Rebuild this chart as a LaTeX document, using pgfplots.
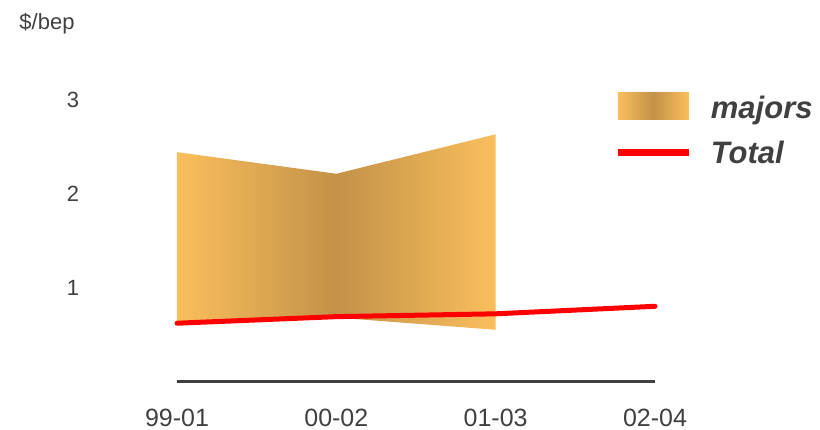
\documentclass[border=0pt]{standalone}
\usepackage{pgfplots}
\pgfplotsset{compat=1.18}
\usepackage{fontspec}
\setmainfont{Liberation Sans}
\definecolor{lightor}{RGB}{250,190,92}
\definecolor{darkor}{RGB}{195,146,72}
\definecolor{txt}{RGB}{64,64,64}
\begin{document}
\begin{tikzpicture}
\begin{axis}[
    scale only axis,
    width=478bp, height=329bp,
    xmin=0, xmax=3, ymin=0, ymax=3.5,
    clip=false,
    axis x line*=bottom, axis y line*=left,
    axis line style={-},
    x axis line style={draw=txt, line width=2bp},
    y axis line style={draw=none},
    major tick length=0pt,
    xtick={0,1,2,3},
    xticklabels={99-01,00-02,01-03,02-04},
    ytick={1,2,3},
    /pgf/number format/assume math mode=true,
    xticklabel style={anchor=center, yshift=-36bp, text=txt,
        font=\fontsize{25bp}{28bp}\selectfont},
    yticklabel style={anchor=center, xshift=-104bp, text=txt,
        font=\fontsize{22bp}{26bp}\selectfont},
    ylabel={\$/bep},
    ylabel style={rotate=-90, anchor=center, text=txt,
        at={(axis description cs:-0.272,1.087)},
        font=\fontsize{22bp}{26bp}\selectfont},
    legend style={at={(axis description cs:0.9142,0.88)}, anchor=north west,
        draw=none, fill=none, inner sep=0pt, row sep=22bp,
        font=\fontsize{31bp}{34bp}\selectfont\bfseries\itshape,
        text=txt, nodes={inner sep=0pt, text depth=0pt}},
    legend cell align=left,
]
\addplot[draw=none, left color=lightor, right color=lightor, middle color=darkor,
    legend image code/.code={
        \fill[left color=lightor, right color=lightor, middle color=darkor]
            (0bp,-11.5bp) rectangle (71bp,15.5bp);
        \path[draw=none, fill=none, shade=false] (71bp,0bp) -- (93bp,0bp);}]
    coordinates {(0,2.44) (1,2.21) (2,2.63) (2,0.55) (1,0.68) (0,0.60)} -- cycle;
\addlegendentry{majors}
\addplot[red, line width=5bp, line cap=round,
    legend image code/.code={
        \draw[red, line width=7.5bp, line cap=butt] (0bp,0bp) -- (71bp,0bp);
        \path[draw=none] (71bp,0bp) -- (93bp,0bp);}]
    coordinates {(0,0.62) (1,0.69) (2,0.72) (3,0.80)};
\addlegendentry{Total}
\end{axis}
\useasboundingbox (-177bp,-48.5bp) rectangle (643bp,381.5bp);
\end{tikzpicture}
\end{document}
